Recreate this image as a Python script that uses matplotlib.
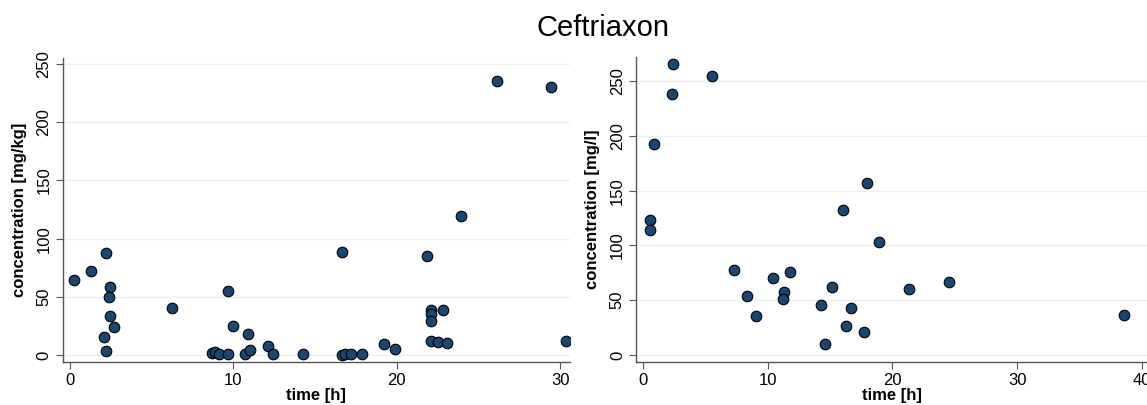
import matplotlib
matplotlib.use("Agg")
import matplotlib.pyplot as plt

plt.rcParams['font.family'] = ['Liberation Sans', 'DejaVu Sans']

# Tissue concentrations (mg/kg) over time
tissue_time = [0.27, 1.32, 2.26, 2.48, 2.44, 2.48, 2.71, 2.10, 2.21, 6.24,
               9.70, 8.70, 8.88, 9.11, 9.70, 10.0, 10.91, 10.71, 11.03, 12.12,
               12.41, 14.28, 16.65, 16.63, 16.83, 17.22, 17.88, 19.20, 19.89, 21.85,
               22.10, 22.10, 22.10, 22.10, 22.55, 22.85, 23.10, 23.94, 26.13, 29.41,
               30.36]
tissue_conc = [64.6, 71.8, 87.5, 58.8, 49.7, 33.6, 24.1, 15.8, 3.4, 40.5,
               55.1, 1.7, 2.9, 0.9, 1.1, 24.7, 18.4, 0.9, 4.3, 7.5,
               1.1, 1.1, 88.7, 0.0, 0.6, 0.9, 1.1, 9.2, 5.5, 85.5,
               38.7, 35.3, 29.6, 12.1, 11.2, 38.7, 10.0, 119.1, 235.4, 230.5,
               11.8]

# Plasma concentrations (mg/l) over time
plasma_time = [0.56, 0.56, 0.88, 2.29, 2.38, 5.50, 7.32, 8.35, 9.06, 10.44,
               11.82, 11.32, 11.24, 14.26, 14.59, 15.18, 16.06, 16.24, 16.71, 17.68,
               17.94, 18.88, 21.35, 24.50, 38.53]
plasma_conc = [123.2, 114.0, 193.0, 238.4, 265.5, 254.9, 77.4, 53.7, 36.0, 70.4,
               75.6, 57.6, 51.2, 46.0, 9.8, 62.2, 132.3, 26.2, 43.0, 21.0,
               156.7, 103.4, 59.8, 66.2, 36.9]

left_xticks = [0, 10, 20, 30]
left_yticks = [0, 50, 100, 150, 200, 250]
right_xticks = [0, 10, 20, 30, 40]
right_yticks = [0, 50, 100, 150, 200, 250]

W, H = 1147, 405
fig = plt.figure(figsize=(W / 100, H / 100), dpi=100)
fig.patch.set_facecolor('white')

marker_color = '#1a476f'
grid_color = '#eaf2f3'
axis_color = '#555555'


def make_axes(px_left, px_right, px_top, px_bottom):
    return fig.add_axes([px_left / W, 1 - px_bottom / H,
                         (px_right - px_left) / W, (px_bottom - px_top) / H])


def style(ax, xticks, yticks, xlim, ylim, ylabel):
    ax.set_xlim(*xlim)
    ax.set_ylim(*ylim)
    ax.set_xticks(xticks)
    ax.set_yticks(yticks)
    ax.grid(axis='y', color=grid_color, linewidth=1.0)
    ax.set_axisbelow(True)
    for s in ['top', 'right']:
        ax.spines[s].set_visible(False)
    for s in ['left', 'bottom']:
        ax.spines[s].set_color(axis_color)
        ax.spines[s].set_linewidth(1.0)
    ax.tick_params(axis='both', direction='out', length=5, width=0.8,
                   color=axis_color, labelsize=12, pad=3)
    for lab in ax.get_yticklabels():
        lab.set_rotation(90)
        lab.set_va('center')
    ax.set_xlabel('time [h]', fontsize=12, fontweight='bold', labelpad=0)
    ax.set_ylabel(ylabel, fontsize=12, fontweight='bold', labelpad=7)


ax1 = make_axes(62.5, 570, 58, 362)
ax1.scatter(tissue_time, tissue_conc, s=58, color=marker_color,
            edgecolors='black', linewidths=0.8, zorder=3)
style(ax1, left_xticks, left_yticks, (-0.43, 30.6), (-6.0, 255.2),
      'concentration [mg/kg]')

ax2 = make_axes(636, 1147, 57, 362)
ax2.scatter(plasma_time, plasma_conc, s=58, color=marker_color,
            edgecolors='black', linewidths=0.8, zorder=3)
style(ax2, right_xticks, right_yticks, (-0.56, 40.4), (-6.4, 272),
      'concentration [mg/l]')

fig.text(603 / W, 1 - 28 / H, 'Ceftriaxon', ha='center', va='center',
         fontsize=21)

fig.savefig('out.png', dpi=100)
